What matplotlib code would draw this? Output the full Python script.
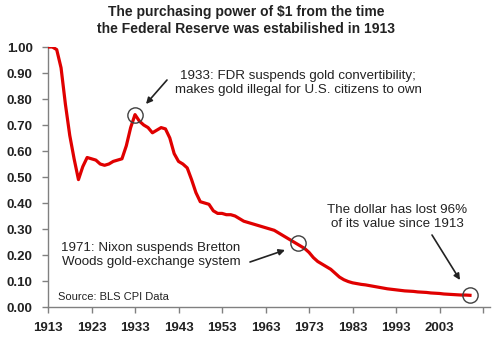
import matplotlib
matplotlib.use("Agg")
import matplotlib.pyplot as plt

years = list(range(1913, 2011))
values = [
    1.00, 1.00, 0.99, 0.92, 0.78, 0.66, 0.57, 0.49, 0.54, 0.575,
    0.57, 0.565, 0.55, 0.545, 0.55, 0.56, 0.565, 0.57, 0.62, 0.69,
    0.74, 0.715, 0.70, 0.69, 0.67, 0.68, 0.69, 0.685, 0.65, 0.59,
    0.56, 0.55, 0.535, 0.49, 0.44, 0.405, 0.40, 0.395, 0.37, 0.36,
    0.36, 0.355, 0.355, 0.35, 0.34, 0.33, 0.325, 0.32, 0.315, 0.31,
    0.305, 0.30, 0.295, 0.285, 0.275, 0.265, 0.255, 0.245, 0.235, 0.225,
    0.21, 0.19, 0.175, 0.165, 0.155, 0.145, 0.13, 0.115, 0.105, 0.098,
    0.093, 0.09, 0.087, 0.085, 0.082, 0.079, 0.076, 0.073, 0.07, 0.068,
    0.066, 0.064, 0.062, 0.061, 0.06, 0.058, 0.057, 0.056, 0.054, 0.053,
    0.052, 0.05, 0.049, 0.048, 0.047, 0.046, 0.046, 0.045,
]
x_ticks = list(range(1913, 2014, 10))
x_tick_labels = [str(y) for y in range(1913, 2004, 10)] + [""]
y_ticks = [0.0, 0.1, 0.2, 0.3, 0.4, 0.5, 0.6, 0.7, 0.8, 0.9, 1.0]
y_tick_labels = ["%.2f" % v for v in y_ticks]

highlight_years = [1933, 1970.5, 2010]
highlight_values = [0.74, 0.245, 0.045]

title_lines = ["The purchasing power of $1 from the time",
               "the Federal Reserve was estabilished in 1913"]
note_1933 = "1933: FDR suspends gold convertibility;\nmakes gold illegal for U.S. citizens to own"
note_1971 = "1971: Nixon suspends Bretton\nWoods gold-exchange system"
note_lost = "The dollar has lost 96%\nof its value since 1913"
source = "Source: BLS CPI Data"

plt.rcParams['font.family'] = ['Liberation Sans', 'DejaVu Sans']

W, H = 493, 346
fig = plt.figure(figsize=(W / 100, H / 100), dpi=100)
ax = fig.add_axes([48 / W, (H - 307) / H, 442 / W, 260 / H])

ax.plot(years, values, color="#e00000", lw=2.3, solid_joinstyle="round", zorder=3)
ax.plot(highlight_years, highlight_values, "o", ms=11, mfc="none", mec="#404040", mew=1.0, zorder=4)

ax.set_xlim(1913, 2014.6)
ax.set_ylim(0, 1.0)
ax.set_xticks(x_ticks)
ax.set_xticklabels(x_tick_labels)
ax.set_yticks(y_ticks)
ax.set_yticklabels(y_tick_labels)
for s in ["top", "right"]:
    ax.spines[s].set_visible(False)
for s in ["left", "bottom"]:
    ax.spines[s].set_color("#808080")
    ax.spines[s].set_linewidth(1.0)
ax.tick_params(axis="both", direction="out", length=4, width=1, color="#808080",
               labelsize=9.5, labelcolor="#222222", pad=7)
for lab in ax.get_xticklabels() + ax.get_yticklabels():
    lab.set_fontweight("bold")

def px(xp, yp):
    return (xp / W, 1 - yp / H)

for yp, line in zip([12, 29], title_lines):
    fig.text(*px(246, yp), line, ha="center", va="center", fontsize=10,
             fontweight="bold", color="#222222")

fig.text(*px(298, 83), note_1933, ha="center", va="center", fontsize=9.6,
         color="#222222", linespacing=1.25)
fig.text(*px(151, 255), note_1971, ha="center", va="center", fontsize=9.6,
         color="#222222", linespacing=1.2)
fig.text(*px(397, 217), note_lost, ha="center", va="center", fontsize=9.6,
         color="#222222", linespacing=1.25)
fig.text(*px(58, 297), source, ha="left", va="center", fontsize=8,
         color="#222222")

arrowprops = dict(arrowstyle="-|>", color="#222222", lw=1.2, mutation_scale=9,
                  shrinkA=0, shrinkB=0)
for tail, head in [((167, 80), (146, 104)), ((250, 262), (285, 250)), ((432, 235), (460, 280))]:
    ax.annotate("", xy=px(*head), xycoords="figure fraction",
                xytext=px(*tail), textcoords="figure fraction",
                arrowprops=arrowprops)

fig.savefig("out.png", dpi=100)
